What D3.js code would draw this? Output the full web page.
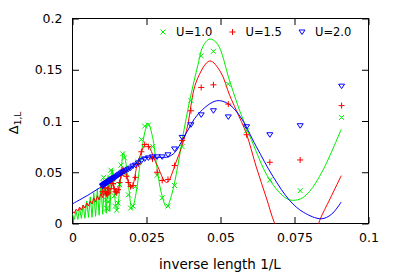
<!DOCTYPE html>
<html>
<head>
<meta charset="utf-8">
<script src="https://cdn.jsdelivr.net/npm/d3@7"></script>
<style>
  body { margin: 0; background: #fff; }
  text { font-family: "DejaVu Sans", sans-serif; fill: #000; }
</style>
</head>
<body>
<div id="container"></div>
<script>
// system sizes L (x axis is 1/L)
const sizeL = [11,13,15,17,19,21,23,25,27,29,31,33,35,37,39,41,43,45,47,49,51,53,55,57,59,61,63,65,67,69,71,73,75,77,79,81,83,85,87,89,91,93,95,97,99];

const deltaU10 = [0.1035,0.032,0.0425,0.0905,0.136,0.168,0.1635,0.120,0.075,0.037,0.017,0.025,0.047,0.075,0.096,0.095,0.082,0.060,0.036,0.017,0.015,0.028,0.049,0.064,0.068,0.057,0.038,0.020,0.013,0.017,0.027,0.040,0.050,0.052,0.045,0.033,0.021,0.014,0.015,0.023,0.033,0.042,0.045,0.040,0.031];
const deltaU15 = [0.115,0.062,0.0597,0.0866,0.1165,0.1353,0.1327,0.110,0.081,0.0565,0.043,0.042,0.050,0.063,0.075,0.077,0.070,0.058,0.045,0.037,0.036,0.040,0.046,0.051,0.052,0.047,0.040,0.033,0.030,0.031,0.034,0.039,0.042,0.042,0.039,0.034,0.030,0.028,0.029,0.031,0.035,0.037,0.037,0.035,0.031];
const deltaU20 = [0.134,0.0954,0.0866,0.0944,0.104,0.110,0.106,0.0963,0.084,0.0727,0.067,0.065,0.065,0.065,0.064,0.063,0.061,0.059,0.057,0.056,0.054,0.053,0.052,0.051,0.050,0.049,0.048,0.047,0.046,0.045,0.0445,0.044,0.043,0.0425,0.042,0.041,0.0405,0.040,0.0395,0.039,0.0385,0.038,0.0375,0.037,0.0365];

// fit curves: jagged part near 1/L=0, then the smooth part
const fitU10Near = [[0,0.009],[0.0006,0.004],[0.0012,0.012],[0.0018,0.004],[0.0024,0.015],[0.003,0.005],[0.0036,0.018],[0.0042,0.005],[0.0048,0.022],[0.0054,0.006],[0.006,0.026],[0.0066,0.006],[0.0072,0.030],[0.0078,0.007],[0.0084,0.034],[0.009,0.008],[0.0096,0.038],[0.0102,0.009],[0.0108,0.042],[0.0114,0.010],[0.012,0.046],[0.0126,0.012],[0.0134,0.053]];
const fitU10 = [[0.0134,0.053],[0.015,0.013],[0.016,0.035],[0.0172,0.069],[0.018,0.060],[0.019,0.035],[0.0201,0.014],[0.0215,0.030],[0.023,0.062],[0.0245,0.090],[0.0255,0.098],[0.027,0.085],[0.0285,0.055],[0.030,0.030],[0.0318,0.016],[0.0335,0.028],[0.0355,0.055],[0.0374,0.087],[0.0396,0.120],[0.0424,0.155],[0.0441,0.173],[0.0464,0.180],[0.049,0.175],[0.0531,0.139],[0.0565,0.110],[0.0587,0.094],[0.0621,0.070],[0.0655,0.048],[0.07,0.030],[0.0734,0.023],[0.077,0.024],[0.08,0.031],[0.0846,0.052],[0.0908,0.092]];
const fitU15Near = [[0,0.012],[0.0006,0.010],[0.0012,0.014],[0.0018,0.012],[0.0024,0.016],[0.003,0.013],[0.0036,0.018],[0.0042,0.015],[0.0048,0.020],[0.0054,0.017],[0.006,0.022],[0.0066,0.019],[0.0072,0.025],[0.0078,0.021],[0.0084,0.027],[0.009,0.023],[0.0096,0.030],[0.0102,0.025],[0.0108,0.032],[0.0114,0.027],[0.012,0.036],[0.0126,0.029],[0.0135,0.040]];
const fitU15 = [[0.0135,0.040],[0.015,0.029],[0.0172,0.053],[0.0199,0.035],[0.0222,0.061],[0.025,0.0776],[0.0284,0.058],[0.0318,0.040],[0.035,0.060],[0.0385,0.0905],[0.0419,0.139],[0.0464,0.1586],[0.05,0.148],[0.0531,0.125],[0.0554,0.110],[0.0587,0.088],[0.0621,0.055],[0.0655,0.025],[0.0683,0.0],[0.072,-0.022],[0.077,-0.033],[0.081,-0.02],[0.0835,0.003],[0.087,0.024],[0.0908,0.0467]];
const fitU20 = [[0,0.0192],[0.006,0.029],[0.012,0.040],[0.0177,0.050],[0.0211,0.058],[0.0228,0.063],[0.026,0.0648],[0.03,0.0645],[0.0323,0.065],[0.0346,0.0694],[0.038,0.086],[0.0425,0.107],[0.0486,0.1197],[0.0525,0.117],[0.0565,0.105],[0.0621,0.075],[0.0677,0.046],[0.0734,0.0224],[0.078,0.011],[0.084,0.0046],[0.0875,0.009],[0.0908,0.021]];

const xTicks = [0, 0.025, 0.05, 0.075, 0.1];
const yTicks = [0, 0.05, 0.1, 0.15, 0.2];
const xTickLabels = ['0', '0.025', '0.05', '0.075', '0.1'];
const yTickLabels = ['0', '0.05', '0.1', '0.15', '0.2'];
const seriesNames = ['U=1.0', 'U=1.5', 'U=2.0'];
const seriesColors = ['#00ee00', '#ff0000', '#0000ff'];

const width = 395, height = 276;
const plotLeft = 72.5, plotRight = 368.5, plotTop = 18.5, plotBottom = 223.5;

const svg = d3.select('#container').append('svg')
  .attr('width', width).attr('height', height);

const x = d3.scaleLinear().domain([0, 0.1]).range([plotLeft, plotRight]);
const y = d3.scaleLinear().domain([0, 0.2]).range([plotBottom, plotTop]);

svg.append('clipPath').attr('id', 'plot-clip')
  .append('rect').attr('x', plotLeft).attr('y', plotTop)
  .attr('width', plotRight - plotLeft).attr('height', plotBottom - plotTop);

// inward ticks on all four sides
const tick = 6.5;
svg.append('g').attr('transform', `translate(0,${plotBottom})`)
  .call(d3.axisBottom(x).tickValues(xTicks).tickSize(-tick).tickPadding(10)
    .tickFormat((d, i) => xTickLabels[i]))
  .call(g => g.select('.domain').remove());
svg.append('g').attr('transform', `translate(0,${plotTop})`)
  .call(d3.axisTop(x).tickValues(xTicks).tickSize(-tick).tickFormat(''))
  .call(g => g.select('.domain').remove());
svg.append('g').attr('transform', `translate(${plotLeft},0)`)
  .call(d3.axisLeft(y).tickValues(yTicks).tickSize(-tick).tickPadding(10)
    .tickFormat((d, i) => yTickLabels[i]))
  .call(g => g.select('.domain').remove());
svg.append('g').attr('transform', `translate(${plotRight},0)`)
  .call(d3.axisRight(y).tickValues(yTicks).tickSize(-tick).tickFormat(''))
  .call(g => g.select('.domain').remove());

svg.selectAll('.tick line').attr('stroke', '#000');
svg.selectAll('.tick text').attr('font-size', 12.5)
  .attr('font-family', '"DejaVu Sans", sans-serif').attr('fill', '#000');

svg.append('rect').attr('x', plotLeft).attr('y', plotTop)
  .attr('width', plotRight - plotLeft).attr('height', plotBottom - plotTop)
  .attr('fill', 'none').attr('stroke', '#000').attr('stroke-width', 1);

const plot = svg.append('g').attr('clip-path', 'url(#plot-clip)');

const lineLin = d3.line().x(d => x(d[0])).y(d => y(d[1]));
const lineSmooth = d3.line().curve(d3.curveCatmullRom.alpha(0.5))
  .x(d => x(d[0])).y(d => y(d[1]));

const curves = [
  [fitU10Near, lineLin, 0], [fitU10, lineSmooth, 0],
  [fitU15Near, lineLin, 1], [fitU15, lineSmooth, 1],
  [fitU20, lineSmooth, 2]
];
curves.forEach(([pts, gen, k]) => {
  plot.append('path').attr('d', gen(pts))
    .attr('fill', 'none').attr('stroke', seriesColors[k]).attr('stroke-width', 1);
});

// markers
function cross(g, cx, cy, col) {
  const s = 2.5;
  g.append('path').attr('d', `M${cx - s},${cy - s}L${cx + s},${cy + s}M${cx - s},${cy + s}L${cx + s},${cy - s}`)
    .attr('stroke', col).attr('fill', 'none');
}
function plus(g, cx, cy, col) {
  const s = 3;
  g.append('path').attr('d', `M${cx - s},${cy}L${cx + s},${cy}M${cx},${cy - s}L${cx},${cy + s}`)
    .attr('stroke', col).attr('fill', 'none');
}
function tri(g, cx, cy, col) {
  g.append('path').attr('d', `M${cx - 3},${cy - 2}L${cx + 3},${cy - 2}L${cx},${cy + 2.5}Z`)
    .attr('stroke', col).attr('fill', 'none');
}
const markers = [cross, plus, tri];
const seriesData = [deltaU10, deltaU15, deltaU20];

seriesData.forEach((vals, k) => {
  const g = plot.append('g');
  sizeL.forEach((L, i) => markers[k](g, x(1 / L), y(vals[i]), seriesColors[k]));
});

// legend
const legendX = [163, 232.5, 302];
seriesNames.forEach((name, k) => {
  markers[k](svg, legendX[k], 32, seriesColors[k]);
  svg.append('text').attr('x', legendX[k] + 13).attr('y', 36)
    .attr('font-size', 11.5).text(name);
});

// axis labels
svg.append('text').attr('x', 220).attr('y', 269).attr('text-anchor', 'middle')
  .attr('font-size', 13.5).text('inverse length 1/L');

const yl = svg.append('text').attr('transform', 'translate(18,123) rotate(-90)')
  .attr('text-anchor', 'middle').attr('font-size', 13);
yl.append('tspan').text('Δ');
yl.append('tspan').attr('font-size', 9).attr('dy', 3).text('1,L');
</script>
</body>
</html>
